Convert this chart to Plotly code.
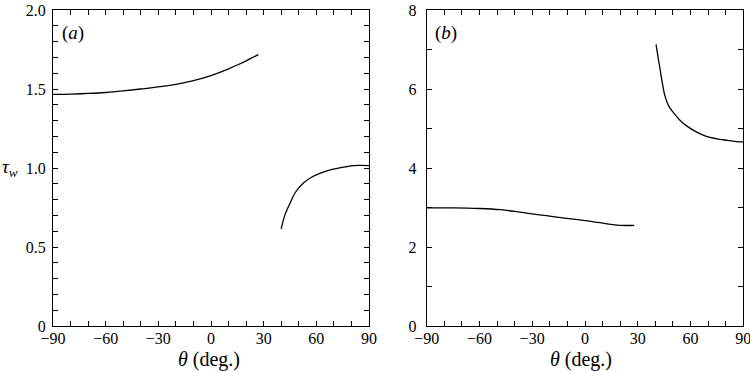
import plotly.graph_objects as go

# Panel (a): upper branch
theta_a1 = [-90, -80, -70, -60, -50, -40, -30, -20, -10, 0, 5, 10, 15, 20, 27]
tau_a1 = [1.466, 1.468, 1.472, 1.478, 1.488, 1.500, 1.513, 1.530, 1.553, 1.585, 1.605, 1.628, 1.652, 1.678, 1.718]
# Panel (a): lower branch
theta_a2 = [40, 42, 45, 48, 52.5, 57, 62, 67, 72, 77, 81, 85, 90]
tau_a2 = [0.614, 0.700, 0.777, 0.845, 0.903, 0.940, 0.966, 0.985, 0.998, 1.008, 1.015, 1.017, 1.015]
# Panel (b): lower branch
theta_b1 = [-90, -75, -60, -48, -38, -27, -18, -8, 0, 10, 16, 20, 24, 28]
tau_b1 = [2.99, 2.99, 2.975, 2.944, 2.89, 2.82, 2.77, 2.71, 2.67, 2.606, 2.565, 2.548, 2.545, 2.55]
# Panel (b): upper branch
theta_b2 = [40.4, 41.5, 42.7, 44, 45.5, 47.5, 50.3, 54, 58, 63, 69, 75, 81, 86, 90]
tau_b2 = [7.13, 6.82, 6.50, 6.15, 5.82, 5.58, 5.40, 5.21, 5.06, 4.92, 4.80, 4.74, 4.70, 4.67, 4.66]

x_ticks = list(range(-90, 91, 10))
x_text = [("\u2212" + str(-v) if v < 0 else str(v)) if v % 30 == 0 else "" for v in x_ticks]
ya_ticks = [round(i * 0.1, 1) for i in range(0, 21)]
ya_text = {0: "0", 5: "0.5", 10: "1.0", 15: "1.5", 20: "2.0"}
ya_labels = [ya_text.get(i, "") for i in range(0, 21)]
yb_ticks = list(range(0, 9))
yb_labels = [str(v) if v % 2 == 0 else "" for v in yb_ticks]

FONT = "Liberation Serif, Times New Roman, serif"
line = dict(color="black", width=1.3)

fig = go.Figure()
fig.add_trace(go.Scatter(x=theta_a1, y=tau_a1, mode="lines", line=dict(line, shape="spline"), xaxis="x", yaxis="y"))
fig.add_trace(go.Scatter(x=theta_a2, y=tau_a2, mode="lines", line=dict(line, shape="spline"), xaxis="x", yaxis="y"))
fig.add_trace(go.Scatter(x=theta_b1, y=tau_b1, mode="lines", line=dict(line, shape="spline"), xaxis="x2", yaxis="y2"))
fig.add_trace(go.Scatter(x=theta_b2, y=tau_b2, mode="lines", line=dict(line, shape="spline"), xaxis="x2", yaxis="y2"))

ax_common = dict(showline=True, linecolor="black", linewidth=1.2, mirror="ticks",
                 ticks="inside", ticklen=5, tickwidth=1, tickcolor="black",
                 showgrid=False, zeroline=False, tickmode="array", automargin=False,
                 ticklabeloverflow="allow",
                 tickfont=dict(family=FONT, size=16, color="black"))

fig.update_layout(
    width=750, height=371,
    margin=dict(l=0, r=0, t=0, b=0, autoexpand=False),
    paper_bgcolor="white", plot_bgcolor="white",
    showlegend=False,
    font=dict(family=FONT, color="black"),
    xaxis=dict(ax_common, domain=[0.0707, 0.492], range=[-90, 90], tickvals=x_ticks, ticktext=x_text, anchor="y", ticklabelstandoff=-2),
    yaxis=dict(ax_common, domain=[0.1213, 0.973], range=[0, 2], tickvals=ya_ticks, ticktext=ya_labels, anchor="x", ticklabelstandoff=3),
    xaxis2=dict(ax_common, domain=[0.569, 0.991], range=[-90, 90], tickvals=x_ticks, ticktext=x_text, anchor="y2", ticklabelstandoff=-2),
    yaxis2=dict(ax_common, domain=[0.1213, 0.973], range=[0, 8], tickvals=yb_ticks, ticktext=yb_labels, anchor="x2", ticklabelstandoff=6),
)

annots = [
    dict(x=209, y=359, text="<i>θ</i> (deg.)", size=20),
    dict(x=581, y=359, text="<i>θ</i> (deg.)", size=20),
    dict(x=73, y=33, text="(<i>a</i>)", size=19),
    dict(x=446, y=33, text="(<i>b</i>)", size=19),
    dict(x=10, y=168, text="<i>τ<sub>w</sub></i>", size=19),
]
for a in annots:
    fig.add_annotation(x=a["x"] / 750, y=1 - a["y"] / 371, xref="paper", yref="paper",
                       text=a["text"], showarrow=False, xanchor="center", yanchor="middle",
                       font=dict(family=FONT, size=a["size"], color="black"))

fig.write_html("out.html", config={"displayModeBar": False},
               post_script="document.body.style.margin='0';document.body.style.overflow='hidden';")
